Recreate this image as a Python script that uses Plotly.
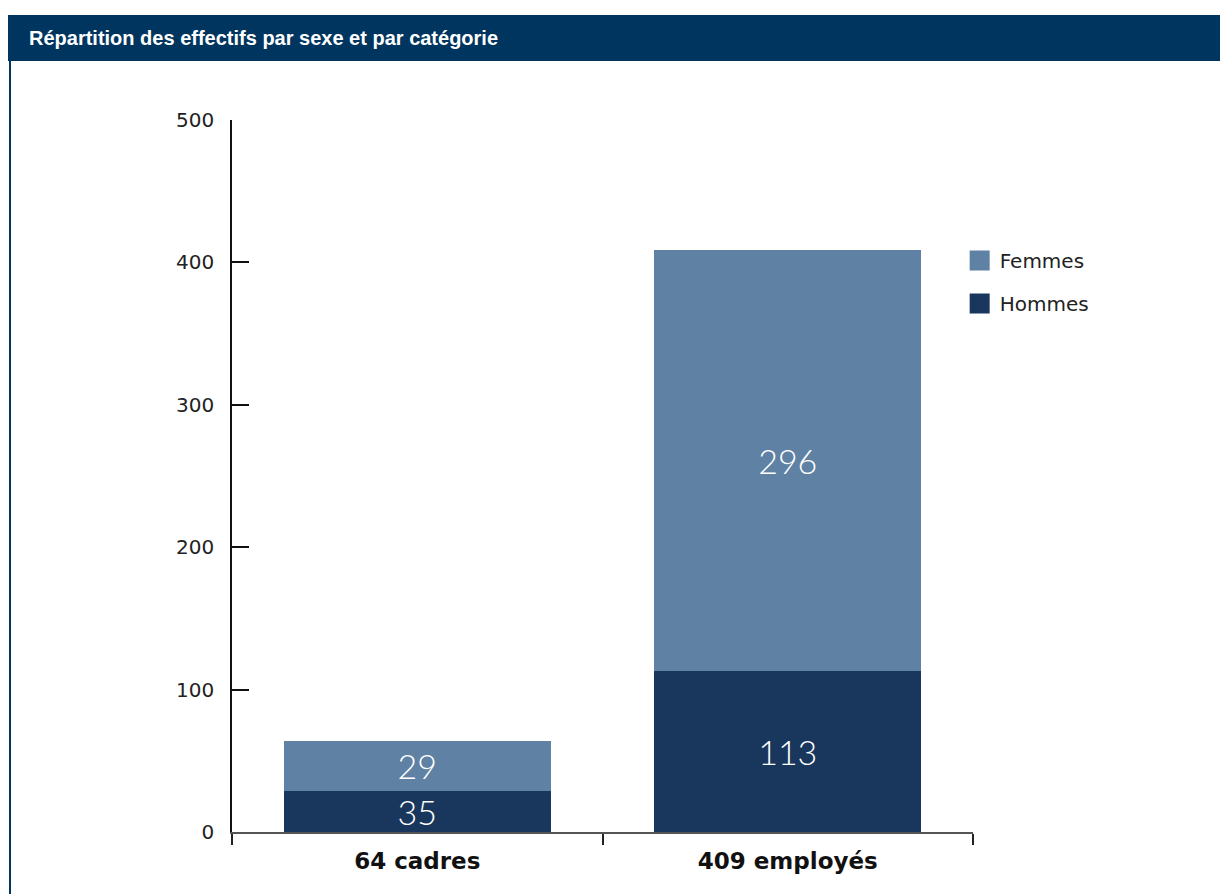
import plotly.graph_objects as go

categories = ["64 cadres", "409 employés"]
# bar segment heights as drawn in the reference
hommes = [29, 113]
femmes = [35, 296]
# value labels as printed in the reference
hommes_labels = ["35", "113"]
femmes_labels = ["29", "296"]
series_names = ["Hommes", "Femmes"]
y_ticks = [0, 100, 200, 300, 400, 500]
title_text = "Répartition des effectifs par sexe et par catégorie"

c_h = "#19375D"
c_f = "#5E81A4"
navy = "#00355F"
label_font = dict(family="Lato, Noto Sans, sans-serif", size=34, color="white", weight=300)

W, H = 1220, 886
L, T, PW, PH = 224, 112, 741, 712

def px(x):
    return (x - L) / PW

def py(y):
    return (T + PH - y) / PH

fig = go.Figure()
fig.add_trace(go.Bar(x=categories, y=hommes, name=series_names[0], marker_color=c_h,
                     marker_line_width=0,
                     text=hommes_labels, textposition="inside", textangle=0,
                     insidetextanchor="middle", textfont=label_font,
                     constraintext="none", showlegend=False, width=0.72))
fig.add_trace(go.Bar(x=categories, y=femmes, name=series_names[1], marker_color=c_f,
                     marker_line_width=0,
                     text=femmes_labels, textposition="inside", textangle=0,
                     insidetextanchor="middle", textfont=label_font,
                     constraintext="none", showlegend=False, width=0.72))
# legend entries
for nm, col, grp in [(series_names[1], c_f, "a"), (series_names[0], c_h, "b")]:
    fig.add_trace(go.Scatter(x=[None], y=[None], mode="markers", name=nm,
                             legendgroup=grp,
                             marker=dict(symbol="square", size=16, color=col,
                                         line=dict(color=col, width=4))))

fig.update_layout(
    barmode="stack",
    width=W, height=H,
    margin=dict(l=L, r=W - L - PW, t=T, b=H - T - PH, pad=0),
    paper_bgcolor="white", plot_bgcolor="white",
    showlegend=True,
    legend=dict(x=0.982, xanchor="left", y=0.83, yanchor="top",
                font=dict(family="DejaVu Sans, sans-serif", size=20, color="#222"),
                tracegroupgap=14, itemwidth=30, bgcolor="rgba(0,0,0,0)"),
    xaxis=dict(showline=True, linecolor="#555", linewidth=1.5,
               ticks="outside", ticklen=11, tickcolor="#222", tickwidth=1.5,
               tickson="boundaries", ticklabelstandoff=8,
               tickfont=dict(family="DejaVu Sans, sans-serif", size=23,
                             color="#111", weight="bold"),
               range=[-0.5, 1.5], showgrid=False, zeroline=False, fixedrange=True),
    yaxis=dict(range=[0, 500], tickvals=y_ticks, showline=True, linecolor="#111",
               linewidth=1.5, ticks="inside", ticklen=17, tickcolor="#111",
               tickwidth=1.5, showgrid=False, zeroline=False,
               ticklabelstandoff=12,
               tickfont=dict(family="DejaVu Sans, sans-serif", size=20, color="#222")),
    shapes=[
        dict(type="rect", xref="paper", yref="paper",
             x0=px(0), x1=px(W + 10),
             y0=py(53), y1=py(7),
             fillcolor=navy, line=dict(width=0), layer="above"),
        dict(type="line", xref="paper", yref="paper",
             x0=px(2), x1=px(2),
             y0=py(53), y1=py(H + 10),
             line=dict(color=navy, width=2)),
    ],
    annotations=[
        dict(text="<b>" + title_text + "</b>", xref="paper", yref="paper",
             x=px(19), y=py(30), xanchor="left", yanchor="middle",
             showarrow=False,
             font=dict(family="Liberation Sans, Arial, sans-serif",
                       size=20, color="white")),
    ],
)

fig.write_html("out.html")
